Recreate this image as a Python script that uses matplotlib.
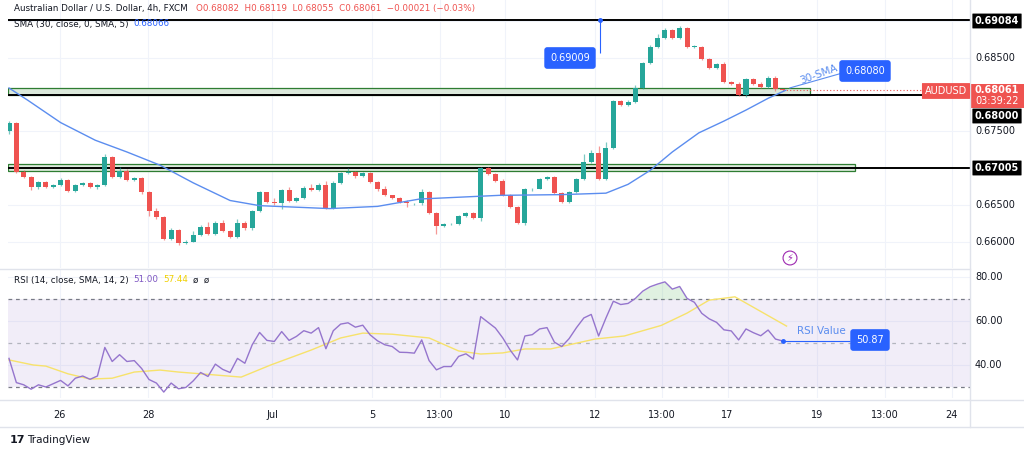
import numpy as np
import matplotlib
matplotlib.use("Agg")
import matplotlib.pyplot as plt
from matplotlib.patches import Rectangle

W, H = 1024, 455

# ---- data (4h candles, AUD/USD) ----
closes = [0.6762, 0.6695, 0.6688, 0.6674, 0.6681, 0.6674, 0.6677, 0.6684, 0.6669, 0.6677,
          0.6680, 0.6674, 0.6677, 0.6715, 0.6688, 0.6696, 0.6684, 0.6686, 0.6667, 0.6642,
          0.6633, 0.6604, 0.6616, 0.6598, 0.6600, 0.6609, 0.6620, 0.6610, 0.6626, 0.6615,
          0.6607, 0.6626, 0.6618, 0.6642, 0.6667, 0.6654, 0.6652, 0.6670, 0.6656, 0.6660,
          0.6673, 0.6670, 0.6677, 0.6646, 0.6680, 0.6693, 0.6695, 0.6689, 0.6693, 0.6681,
          0.6671, 0.6663, 0.6660, 0.6654, 0.6652, 0.6652, 0.6667, 0.6639, 0.6621, 0.6624,
          0.6624, 0.6635, 0.6639, 0.6632, 0.6700, 0.6692, 0.6682, 0.6663, 0.6647, 0.6625,
          0.6671, 0.6672, 0.6685, 0.6688, 0.6666, 0.6654, 0.6668, 0.6685, 0.6709, 0.6720,
          0.6685, 0.6728, 0.6791, 0.6786, 0.6790, 0.6809, 0.6843, 0.6865, 0.6877, 0.6888,
          0.6877, 0.6891, 0.6865, 0.6865, 0.6848, 0.6836, 0.6841, 0.6817, 0.6815, 0.6799,
          0.6821, 0.6815, 0.6810, 0.6822, 0.6807, 0.6806]
first_open = 0.6750
# wick sizes in pips (upper, lower)
wick_up = [4, 2, 6, 2, 4, 2, 3, 6, 2, 3, 3, 2, 3, 8, 2, 10, 6, 4, 3, 3,
           8, 3, 4, 3, 4, 12, 6, 14, 4, 6, 3, 10, 4, 3, 4, 2, 12, 3, 10, 2,
           6, 10, 6, 12, 4, 3, 10, 3, 4, 3, 3, 10, 2, 2, 5, 2, 10, 3, 4, 3,
           3, 3, 3, 3, 3, 2, 3, 6, 3, 3, 4, 3, 4, 3, 3, 3, 3, 4, 20, 10,
           20, 15, 3, 4, 6, 8, 4, 4, 10, 6, 3, 4, 3, 4, 3, 3, 3, 6, 4, 3,
           4, 3, 3, 8, 8, 2]
wick_dn = [6, 3, 4, 8, 4, 3, 2, 3, 3, 3, 3, 2, 4, 2, 4, 2, 3, 3, 3, 14,
           4, 3, 3, 4, 3, 2, 3, 3, 3, 3, 3, 3, 3, 3, 2, 3, 3, 14, 3, 3,
           3, 3, 3, 3, 3, 3, 3, 4, 3, 3, 3, 3, 3, 3, 10, 3, 3, 3, 20, 3,
           3, 3, 3, 3, 8, 3, 3, 3, 3, 3, 5, 3, 2, 2, 3, 2, 3, 3, 3, 3,
           3, 3, 3, 4, 3, 3, 3, 3, 3, 3, 3, 3, 3, 3, 3, 3, 3, 3, 3, 3,
           5, 3, 3, 3, 3, 2]

sma_idx = [0, 2.6, 7, 11.7, 16, 20.5, 25, 30, 34, 43.5, 50, 55.7, 66.5, 75, 81, 84, 87,
           90, 93.6, 97, 100, 103, 105.4]
sma_val = [0.6809, 0.6792, 0.6762, 0.6738, 0.6722, 0.6704, 0.6680, 0.6656, 0.6649, 0.6645,
           0.6648, 0.6658, 0.6663, 0.6664, 0.6666, 0.6678, 0.6697, 0.6722, 0.6748, 0.6764,
           0.6779, 0.6795, 0.6806]

rsi = [43, 32, 31, 29, 31, 30, 31.5, 33, 30.5, 34, 35, 33.5, 35, 48, 41.6, 44.7, 41.6, 42,
       38.4, 33.4, 31.8, 27.7, 31.8, 29.2, 29.8, 32.8, 36.6, 34.8, 40.4, 38, 36.6, 43, 40.8,
       49.2, 54.8, 51.2, 50.7, 55.2, 51.2, 53, 55.6, 54.5, 57, 47.4, 55.6, 58.6, 59.2, 57.2,
       58.1, 53.7, 51, 49.2, 48.4, 45.8, 45.7, 45.4, 51.4, 42, 37.8, 39.3, 39.3, 43.9, 45.1,
       42.7, 62, 59.4, 56.8, 52.3, 46.8, 42.3, 53.2, 53.8, 56.4, 57, 50.4, 48.4, 52, 57,
       61.4, 63, 53.2, 61.4, 69, 67.5, 68, 70.3, 73.6, 75.6, 76.8, 77.8, 74.5, 75.7, 70.3,
       68.5, 63.5, 61, 59.4, 56, 55.5, 51.4, 56.4, 54.7, 53.3, 55.9, 51.8, 50.9]
rsi_ma_idx = [0, 3.3, 5, 8, 11, 14, 17, 20.5, 23, 27.5, 31.5, 35.5, 41, 45, 48, 52, 57, 61,
              64, 67, 70, 73.5, 79.5, 83.5, 88.5, 92, 95, 98.5, 105.5]
rsi_ma_val = [42.3, 40, 39.5, 36, 33.6, 34, 36.8, 37.7, 36.8, 35.6, 34.5, 40, 46.8, 52.3,
              54.5, 54, 52.3, 46.4, 45, 45.5, 47.3, 47.3, 51.8, 53.2, 58, 63.6, 69.5, 71,
              57.7]

xtick_pos = [6.9, 18.9, 35.7, 49.3, 58.5, 67.3, 79.5, 88.6, 97.5, 109.7, 118.8, 127.9]
xtick_lab = ["26", "28", "Jul", "5", "13:00", "10", "12", "13:00", "17", "19", "13:00", "24"]
price_ticks = [0.685, 0.675, 0.665, 0.660]
rsi_ticks = [80, 60, 40]

GREEN, RED, BLUE = "#26a69a", "#ef5350", "#2962ff"
GRID = "#f0f3fa"

fig = plt.figure(figsize=(W / 100, H / 100), dpi=100)
fig.patch.set_facecolor("white")


def pax(x0, y0, x1, y1):
    return fig.add_axes([x0 / W, 1 - y1 / H, (x1 - x0) / W, (y1 - y0) / H])


def fx(x):
    return x / W


def fy(y):
    return 1 - y / H


def ix(px):
    return (px - 9) / 7.37


XL = (ix(8), ix(970))
ax = pax(8, 0, 970, 268)
ax2 = pax(8, 270, 970, 398)
for a in (ax, ax2):
    a.set_xlim(*XL)
    for s in a.spines.values():
        s.set_visible(False)
    a.set_xticks([])
    a.set_yticks([])
    for p in xtick_pos:
        a.axvline(p, color=GRID, lw=0.8, zorder=0)
ax.set_ylim(0.65642, 0.69287)
ax2.set_ylim(25, 83.2)
for t in price_ticks + [0.680, 0.670, 0.690]:
    ax.axhline(t, color=GRID, lw=0.8, zorder=0)
for t in rsi_ticks:
    ax2.axhline(t, color=GRID, lw=0.8, zorder=0)

# candles
n = len(closes)
opens = [first_open] + closes[:-1]
for i in range(n):
    o, c = opens[i], closes[i]
    col = GREEN if c >= o else RED
    hi = max(o, c) + wick_up[i] * 1e-4 * 0.5
    lo = min(o, c) - wick_dn[i] * 1e-4 * 0.5
    ax.vlines(i, lo, hi, color=col, lw=0.9, alpha=0.6, zorder=3)
    ax.add_patch(Rectangle((i - 0.34, min(o, c)), 0.68, max(abs(c - o), 0.00005),
                           color=col, zorder=4, lw=0))

ax.plot(sma_idx, sma_val, color="#5b8def", lw=1.0, zorder=5)

# levels and zones
ax.add_patch(Rectangle((XL[0], 0.67995), ix(810) - XL[0], 0.0010, fc="#dbe9db",
                       ec="#2e7d32", lw=0.9, zorder=1))
ax.add_patch(Rectangle((XL[0], 0.6696), ix(855) - XL[0], 0.0009, fc="#dbe9db",
                       ec="#2e7d32", lw=0.9, zorder=1))
ax.axhline(0.69009, color="black", lw=1.4, zorder=2)
ax.axhline(0.68000, color="black", lw=1.4, zorder=2)
ax.axhline(0.67005, color="black", lw=1.4, zorder=2)
ax.hlines(0.68061, n - 1, XL[1], color=RED, lw=0.8, ls=(0, (1, 2)), zorder=2)
ax.vlines(ix(600), 0.6856, 0.69009, color=BLUE, lw=0.8, zorder=3)
ax.plot([ix(600)], [0.69009], "o", color=BLUE, ms=2.5, zorder=3)


def box(x, y, txt, fc, tc="white", size=7, bold=False, pad=0.35, r=0.3):
    fig.text(fx(x), fy(y), txt, color=tc, fontsize=size, ha="center", va="center",
             fontweight="bold" if bold else "normal",
             bbox=dict(boxstyle=f"round,pad={pad},rounding_size={r}", fc=fc, ec="none"))


box(570, 58, "0.69009", BLUE, size=7, pad=0.6)
box(865, 71, "0.68080", BLUE, size=7, pad=0.6)
ax.annotate("", xy=(ix(787), 0.6808), xytext=(ix(844), 0.6830),
            arrowprops=dict(arrowstyle="-", color="#5b8def", lw=0.8))
fig.text(fx(798), fy(74), "30-SMA", color="#5b8def", fontsize=7.5, rotation=20,
         ha="left", va="center")
fig.text(fx(790), fy(258), "\u26a1", color="#9c27b0", fontsize=7, ha="center", va="center",
         bbox=dict(boxstyle="circle,pad=0.2", fc="white", ec="#9c27b0", lw=0.8))

# right price scale
for t in price_ticks:
    fig.text(fx(975), fy(94.5 - (t - 0.68) / 0.000136), f"{t:.5f}", fontsize=7,
             color="#131722", va="center")
box(997, 21, "0.69084", "black", bold=True, r=0.05, pad=0.25)
box(997, 116, "0.68000", "black", bold=True, r=0.05, pad=0.25)
box(997, 168, "0.67005", "black", bold=True, r=0.05, pad=0.25)
box(946, 91, "AUDUSD", RED, bold=False, r=0.05, pad=0.3)
fig.add_artist(Rectangle((fx(971), fy(108)), 53 / W, 24 / H, transform=fig.transFigure,
                         color=RED, lw=0))
fig.text(fx(997), fy(90), "0.68061", color="white", fontsize=7, ha="center", va="center",
         fontweight="bold")
fig.text(fx(997), fy(101), "03:39:22", color="white", fontsize=7, ha="center", va="center")

# legend texts
LF = 6.3
fig.text(fx(14), fy(9), "Australian Dollar / U.S. Dollar, 4h, FXCM", fontsize=LF,
         color="#131722", va="center")
fig.text(fx(196), fy(9), "O0.68082  H0.68119  L0.68055  C0.68061  \u22120.00021 (\u22120.03%)",
         fontsize=LF, color=RED, va="center")
fig.text(fx(14), fy(24), "SMA (30, close, 0, SMA, 5)", fontsize=LF, color="#131722",
         va="center")
fig.text(fx(133), fy(24), "0.68066", fontsize=LF, color=BLUE, va="center")

# RSI pane
ri = np.arange(len(rsi))
ax2.axhspan(30, 70, color="#7e57c2", alpha=0.1, lw=0, zorder=0)
for lv, st in ((70, (0, (3, 3))), (50, (0, (3, 4))), (30, (0, (3, 3)))):
    ax2.axhline(lv, color="#787b86" if lv != 50 else "#b2b5be", lw=0.9, ls=st, zorder=1)
rs = np.array(rsi)
ax2.fill_between(ri, 70, rs, where=rs > 70, interpolate=True, color="#66bb6a", alpha=0.2,
                 lw=0)
ax2.plot(rsi_ma_idx, rsi_ma_val, color="#f7e26b", lw=1.0, zorder=3)
ax2.plot(ri, rsi, color="#9575cd", lw=1.0, zorder=4)
ax2.plot([ri[-1]], [rsi[-1]], "o", color=BLUE, ms=2.5, zorder=5)
ax2.hlines(50.9, ri[-1], ix(850), color=BLUE, lw=0.8, zorder=5)
fig.text(fx(797), fy(331), "RSI Value", fontsize=7.5, color="#5b8def", va="center")
box(870, 340, "50.87", BLUE, size=7, pad=0.6)
fig.text(fx(14), fy(280), "RSI (14, close, SMA, 14, 2)", fontsize=LF, color="#131722",
         va="center")
fig.text(fx(133), fy(280), "51.00", fontsize=LF, color="#7e57c2", va="center")
fig.text(fx(163), fy(280), "57.44", fontsize=LF, color="#f0d000", va="center")
fig.text(fx(193), fy(280), "\u00f8  \u00f8", fontsize=LF, color="#131722", va="center")
for t in rsi_ticks:
    fig.text(fx(975), fy(343 - (t - 50) * 2.2), f"{t:.2f}", fontsize=7, color="#131722",
             va="center")

# separators and time axis
for y in (269, 400, 427):
    fig.add_artist(plt.Line2D([0, fx(970) if y == 269 else 1], [fy(y), fy(y)],
                              color="#e0e3eb", lw=1))
fig.add_artist(plt.Line2D([fx(970), fx(970)], [fy(427), 1], color="#e0e3eb", lw=1))
for p, lab in zip(xtick_pos, xtick_lab):
    fig.text(fx(9 + 7.37 * p), fy(415), lab, fontsize=7, color="#131722",
             ha="center", va="center")

fig.text(fx(10), fy(440), "17", fontsize=8, fontweight="bold", color="#131722", va="center")
fig.text(fx(27), fy(440), "TradingView", fontsize=7.5, color="#131722", va="center")

fig.savefig("out.png", dpi=100)
